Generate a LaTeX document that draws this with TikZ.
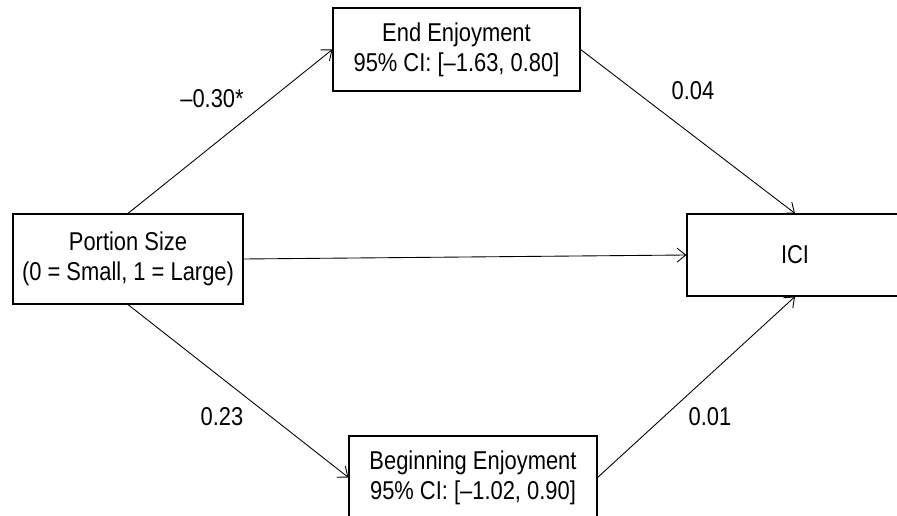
\documentclass[tikz,border=0pt]{standalone}
\usepackage{fontspec}
\setmainfont[FakeStretch=0.85]{Liberation Sans}
\usetikzlibrary{arrows.meta}

\begin{document}
\begin{tikzpicture}[
    x=0.03cm, y=-0.03cm,
    font=\fontsize{22}{25.5}\selectfont,
    box/.style={draw, line width=1pt, align=center, inner sep=0pt},
    arrow/.style={-{Straight Barb[length=2.6mm, width=4.2mm]}, line width=0.75pt},
    coef/.style={inner sep=0pt}
  ]
    \useasboundingbox (0,0) rectangle (897,516);
    \clip (0,0) rectangle (897,516);

    \node[box, minimum width=6.9cm, minimum height=2.7cm] (portion) at (128,259) {Portion Size\\(0 = Small, 1 = Large)};
    \node[box, minimum width=7.41cm, minimum height=2.49cm] (endjoy) at (456.5,49.5) {End Enjoyment\\95\% CI: [–1.63, 0.80]};
    \node[box, minimum width=7.44cm, minimum height=2.49cm] (beginjoy) at (473,477.5) {Beginning Enjoyment\\95\% CI: [–1.02, 0.90]};
    \node[box, minimum width=6.48cm, minimum height=2.46cm] (ici) at (795,255) {ICI};

    \node[coef] (c1) at (212,99) {–0.30*};
    \node[coef] (c2) at (693,91) {0.04};
    \node[coef] (c3) at (222,417) {0.23};
    \node[coef] (c4) at (710,417) {0.01};

    \draw[arrow] (portion.north) -- (endjoy.west);
    \draw[arrow] (portion.east) -- (ici.west);
    \draw[arrow] (portion.south) -- (beginjoy.west);
    \draw[arrow] (endjoy.east) -- (ici.north);
    \draw[arrow] (beginjoy.east) -- (ici.south);
  \end{tikzpicture}
\end{document}
